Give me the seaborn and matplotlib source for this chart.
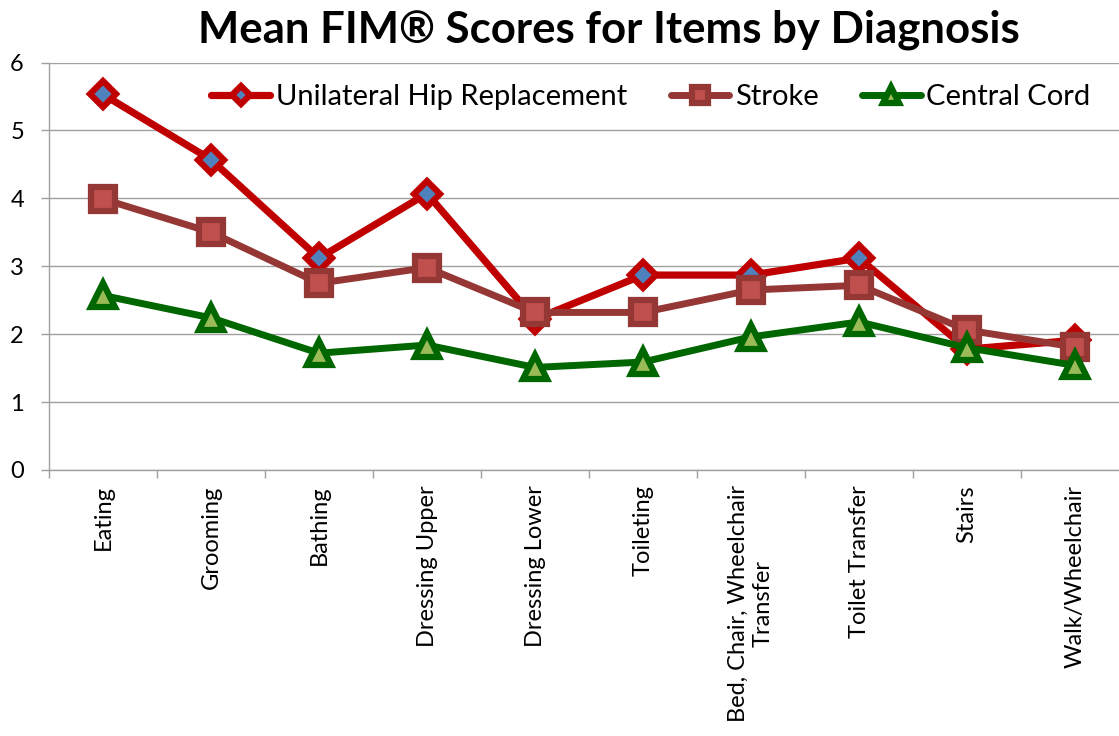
import numpy as np
import pandas as pd
import matplotlib
matplotlib.use("Agg")
import matplotlib.pyplot as plt
import seaborn as sns

categories = ["Eating", "Grooming", "Bathing", "Dressing Upper", "Dressing Lower",
              "Toileting", "Bed, Chair, Wheelchair\nTransfer", "Toilet Transfer",
              "Stairs", "Walk/Wheelchair"]
hip = [5.53, 4.57, 3.12, 4.07, 2.22, 2.87, 2.87, 3.12, 1.78, 1.91]
stroke = [3.99, 3.50, 2.75, 2.98, 2.32, 2.32, 2.65, 2.72, 2.06, 1.81]
central = [2.57, 2.24, 1.72, 1.84, 1.51, 1.59, 1.96, 2.18, 1.80, 1.54]
series_names = ["Unilateral Hip Replacement", "Stroke", "Central Cord"]
yticks = [0, 1, 2, 3, 4, 5, 6]
title = "Mean FIM\u00ae Scores for Items by Diagnosis"

sns.set_theme(style="white")
plt.rcParams["font.family"] = ["Lato", "DejaVu Sans"]
plt.rcParams["text.color"] = "black"
plt.rcParams["xtick.color"] = "black"
plt.rcParams["ytick.color"] = "black"

W, H = 1119, 736
fig = plt.figure(figsize=(W / 100, H / 100), dpi=100)
ax = fig.add_axes([49 / W, 1 - 470 / H, 1080 / W, (470 - 62.5) / H])

x = np.arange(len(categories))
styles = [
    dict(marker="D", color="#C00000", markerfacecolor="#4F81BD", markeredgecolor="#C00000",
         markersize=13, markeredgewidth=4.5, linewidth=5.2),
    dict(marker="s", color="#953735", markerfacecolor="#C0504D", markeredgecolor="#953735",
         markersize=17, markeredgewidth=4.5, linewidth=5),
    dict(marker="^", color="#006600", markerfacecolor="#9BBB59", markeredgecolor="#006600",
         markersize=17, markeredgewidth=4.5, linewidth=5),
]
for name, vals, st in zip(series_names, [hip, stroke, central], styles):
    df = pd.DataFrame({"x": x, "y": vals})
    sns.lineplot(data=df, x="x", y="y", ax=ax, label=name, sort=False,
                 solid_joinstyle="round", solid_capstyle="round",
                 markeredgecolor=st.pop("markeredgecolor"), **st)

ax.set_xlim(-0.5, len(categories) - 0.5)
ax.set_ylim(0, 6)
ax.set_yticks(yticks)
ax.set_yticklabels([str(v) for v in yticks])
ax.set_xticks(x)
ax.set_xticklabels(categories, rotation=90, ha="center", va="top", multialignment="center")
ax.set_xticks(np.arange(len(categories) + 1) - 0.5, minor=True)
ax.tick_params(axis="x", which="major", length=0, pad=11, labelsize=17, labelcolor="black")
ax.tick_params(axis="x", which="minor", length=6, width=1, color="#A0A0A0", direction="out", bottom=True)
ax.tick_params(axis="y", which="major", length=6, width=1, color="#A0A0A0", direction="out",
               left=True, pad=12, labelsize=17, labelcolor="black")
ax.set_xlabel("")
ax.set_ylabel("")
ax.grid(axis="y", color="#A0A0A0", linewidth=1)
ax.grid(axis="x", visible=False)
for s in ["top", "right"]:
    ax.spines[s].set_visible(False)
for s in ["left", "bottom"]:
    ax.spines[s].set_color("#A0A0A0")
    ax.spines[s].set_linewidth(1)
ax.set_axisbelow(True)

leg = ax.legend(loc="center", bbox_to_anchor=(651 / W, 1 - 97 / H), bbox_transform=fig.transFigure,
                ncol=3, frameon=False, fontsize=21, handlelength=2.0, handletextpad=0.2,
                columnspacing=1.5, markerscale=0.7)
for t in leg.get_texts():
    t.set_color("black")

fig.text(609 / W, 1 - 30 / H, title, ha="center", va="center", fontsize=31.5,
         fontweight="bold", color="black")

fig.savefig("out.png", dpi=100, facecolor="white")
